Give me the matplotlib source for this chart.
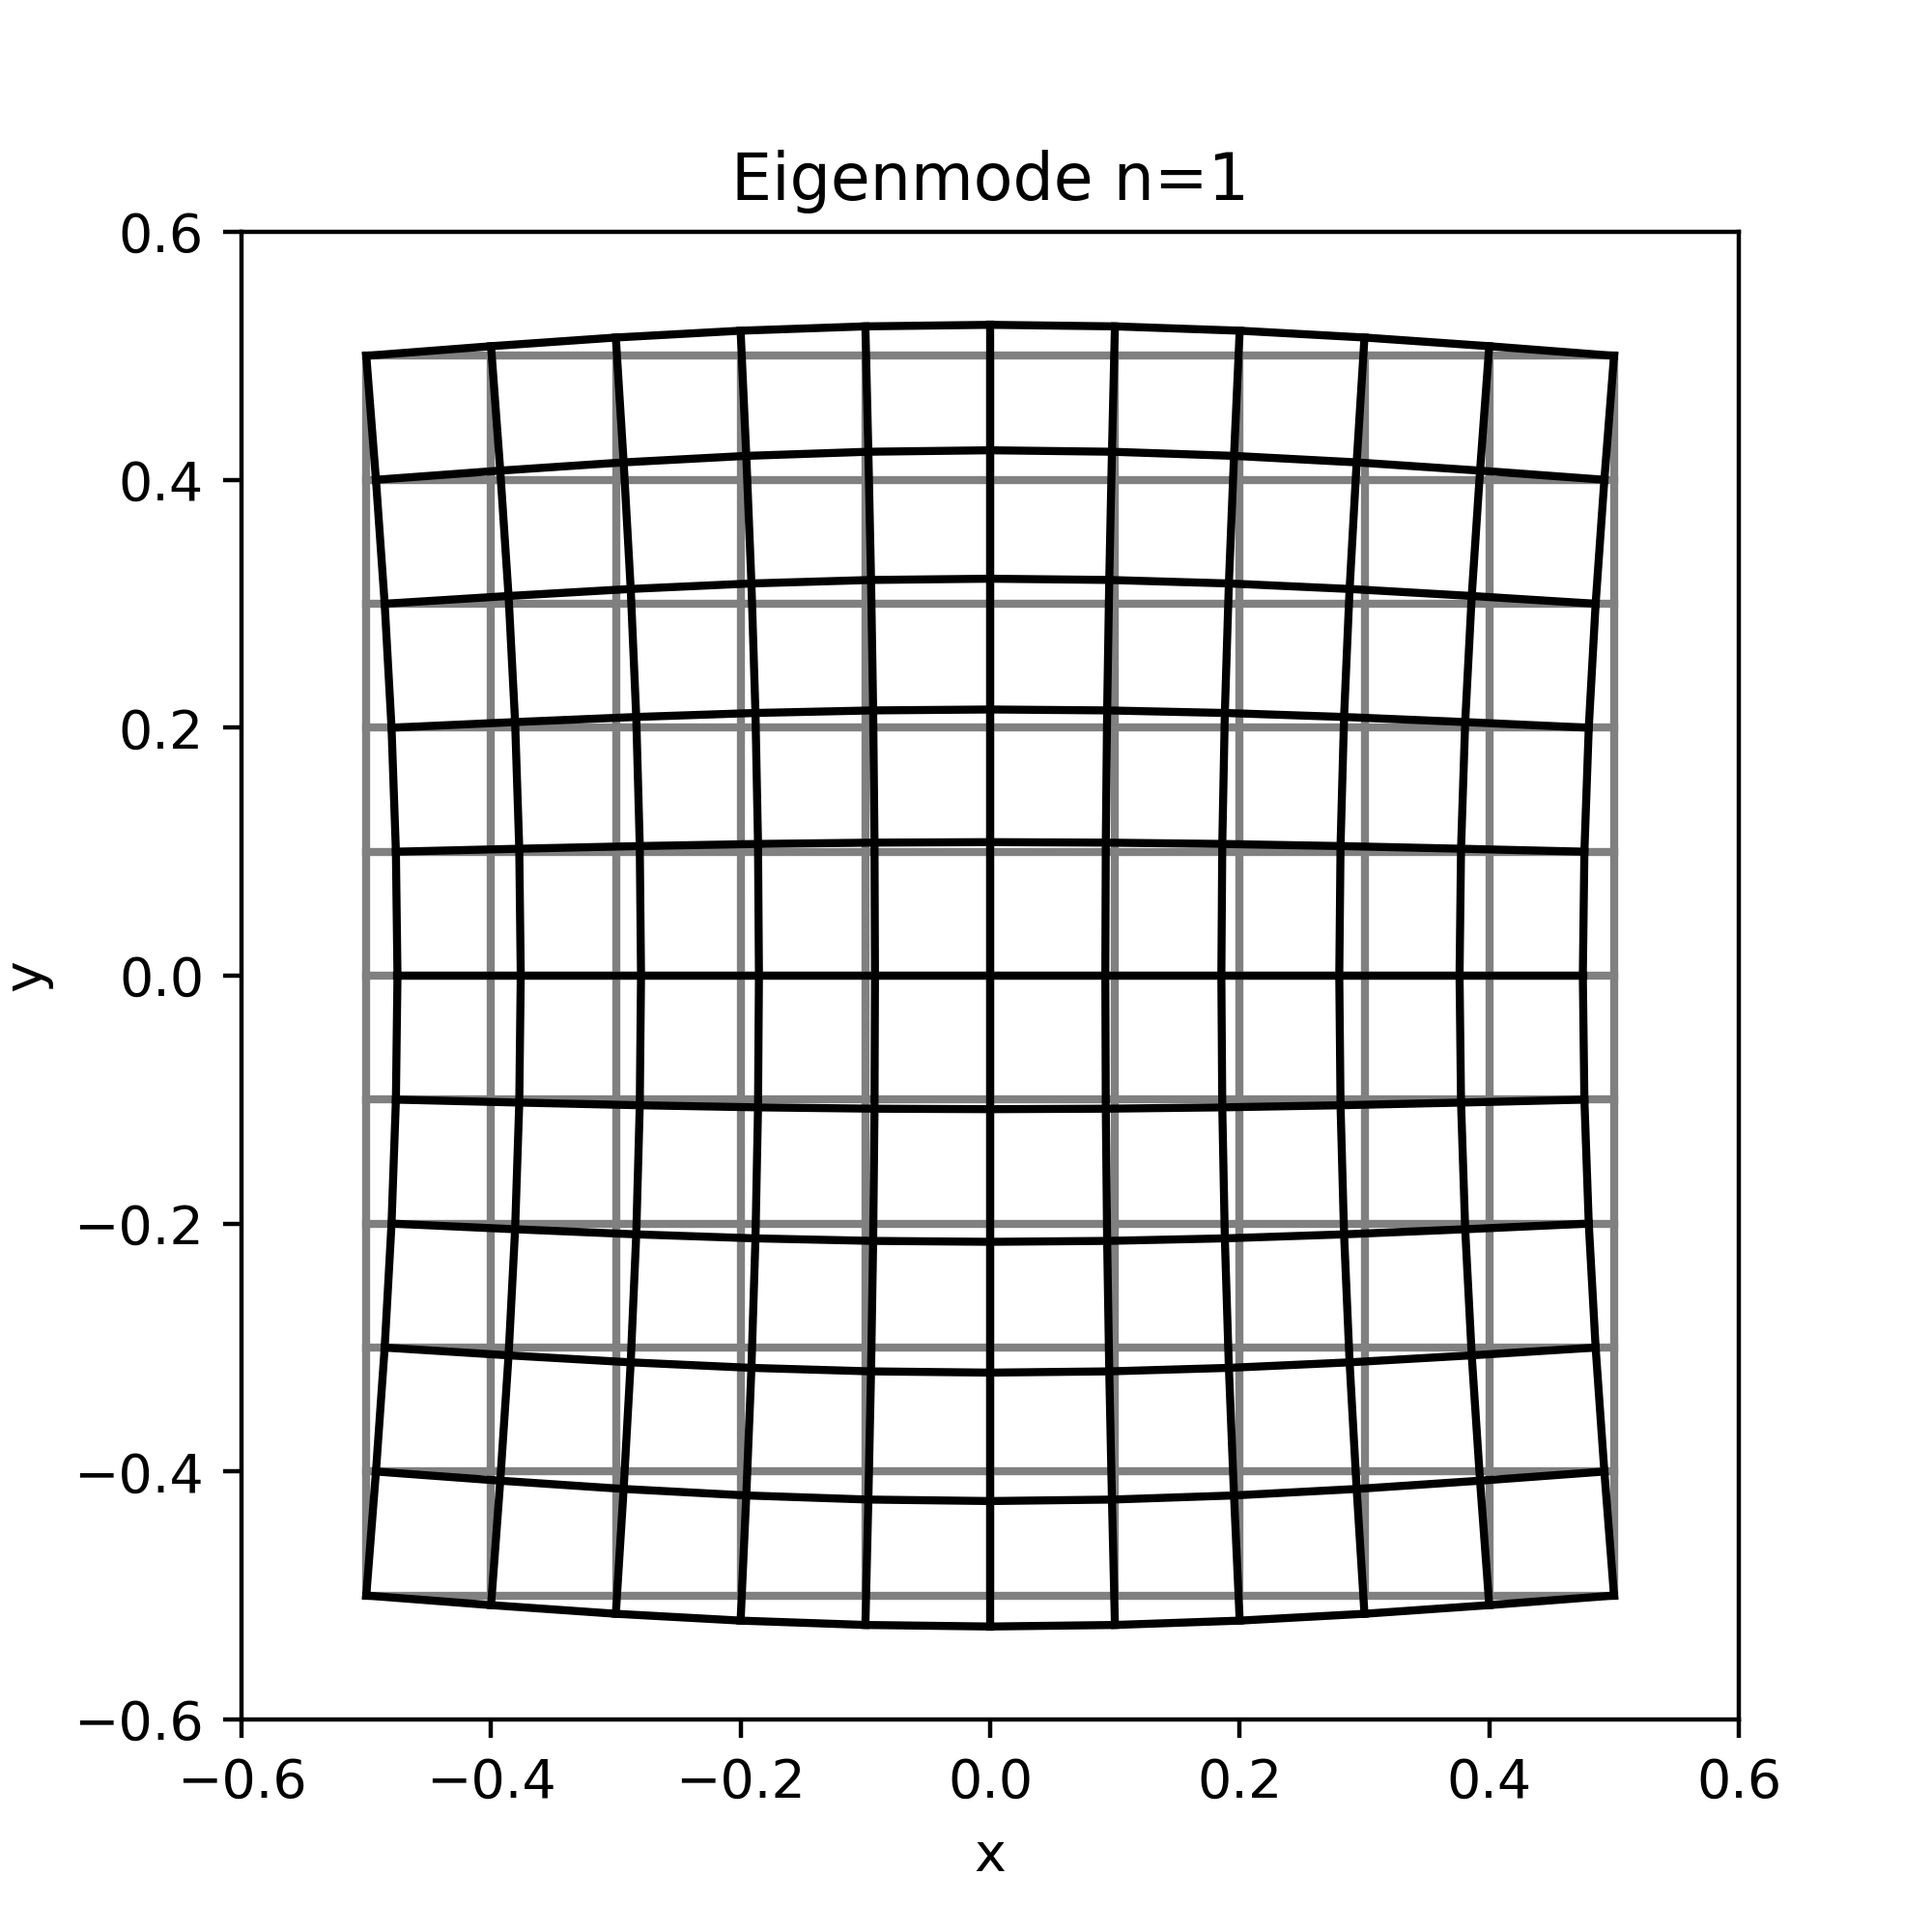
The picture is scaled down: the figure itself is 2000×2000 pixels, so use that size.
import numpy as np
import matplotlib
matplotlib.use("Agg")
import matplotlib.pyplot as plt

# node coordinates of the undeformed grid
nodes = [-0.5, -0.4, -0.3, -0.2, -0.1, 0.0, 0.1, 0.2, 0.3, 0.4, 0.5]

# mode shape: displacement profile and envelope at the nodes
amp = [-0.025, -0.0238, -0.0202, -0.0147, -0.0077, 0.0, 0.0077, 0.0147, 0.0202, 0.0238, 0.025]
env = [0.0, 0.31, 0.59, 0.81, 0.95, 1.0, 0.95, 0.81, 0.59, 0.31, 0.0]

X, Y = np.meshgrid(nodes, nodes)          # rows: y, cols: x
A = np.array(amp)
E = np.array(env)
ux = -np.outer(E, A)                      # ux(y, x) = -amp(x) * env(y)
uy = np.outer(A, E)                       # uy(y, x) = amp(y) * env(x)
Xd = X + ux
Yd = Y + uy

fig, ax = plt.subplots(figsize=(5, 5), dpi=400)

# undeformed grid
for j in range(len(nodes)):
    ax.plot(X[j, :], Y[j, :], color='gray', lw=1.5)
    ax.plot(X[:, j], Y[:, j], color='gray', lw=1.5)

# deformed grid
for j in range(len(nodes)):
    ax.plot(Xd[j, :], Yd[j, :], color='k', lw=1.5)
    ax.plot(Xd[:, j], Yd[:, j], color='k', lw=1.5)

ax.set_xlim(-0.6, 0.6)
ax.set_ylim(-0.6, 0.6)
ax.set_xlabel('x')
ax.set_ylabel('y')
ax.set_title('Eigenmode n=1')

fig.savefig('out.png')
